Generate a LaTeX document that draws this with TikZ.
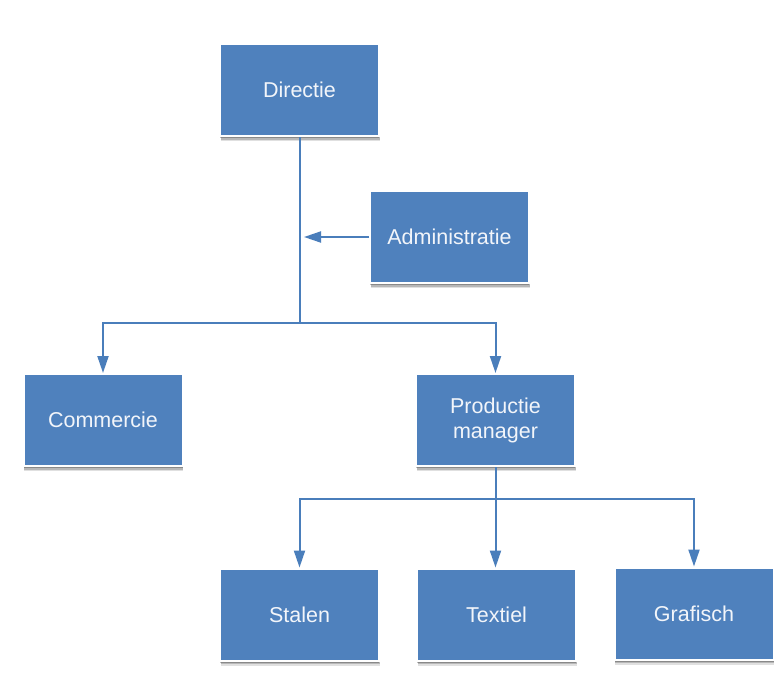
\documentclass[tikz,border=0pt]{standalone}
\usepackage{fontspec}
\setmainfont{Liberation Sans}
\usetikzlibrary{arrows.meta,shadows,calc}
\definecolor{boxblue}{HTML}{4F81BD}
\definecolor{lineblue}{HTML}{4A7EBB}
\definecolor{txt}{HTML}{F2F5FA}
\tikzset{
  orgbox/.style={rectangle, fill=boxblue, draw=white, line width=2pt,
    minimum width=159pt, minimum height=92pt, inner sep=0pt,
    text=txt, align=center, font=\fontsize{21.5}{25}\selectfont,
    drop shadow={shadow xshift=0.5pt, shadow yshift=-5pt, fill=black, opacity=0.12},
    drop shadow={shadow xshift=0.5pt, shadow yshift=-3.5pt, fill=black, opacity=0.18},
    drop shadow={shadow xshift=0pt, shadow yshift=-2pt, fill=black, opacity=0.25}},
  conn/.style={draw=lineblue, line width=2pt},
  arr/.style={conn, -{Triangle[length=17pt,width=11pt]}},
}
\begin{document}
\begin{tikzpicture}[x=1pt,y=-1pt]
\path[use as bounding box, fill=white] (0,0) rectangle (777,673);
\node[orgbox] (dir) at (299.5,90) {Directie};
\node[orgbox] (adm) at (449.5,237) {Administratie};
\node[orgbox] (com) at (103,420) {Commercie};
\node[orgbox] (prod) at (495.5,420) {Productie\\manager};
\node[orgbox] (sta) at (299.5,614.5) {Stalen};
\node[orgbox] (tex) at (496.5,614.5) {Textiel};
\node[orgbox] (gra) at (694,613.5) {Grafisch};
\coordinate (j1) at (299.5,323);
\coordinate (j2) at (495.5,499);
\coordinate (admtip) at (304,237);
\draw[conn] (dir.south) -- (j1);
\draw[arr] (adm.west) -- (admtip);
\draw[arr] (j1) -| (com.north);
\draw[arr] (j1) -| (prod.north);
\draw[conn] (prod.south) -- (j2);
\draw[arr] (j2) -| (sta.north);
\draw[arr] (j2) -- (j2 |- tex.north);
\draw[arr] (j2) -| (gra.north);
\end{tikzpicture}
\end{document}
